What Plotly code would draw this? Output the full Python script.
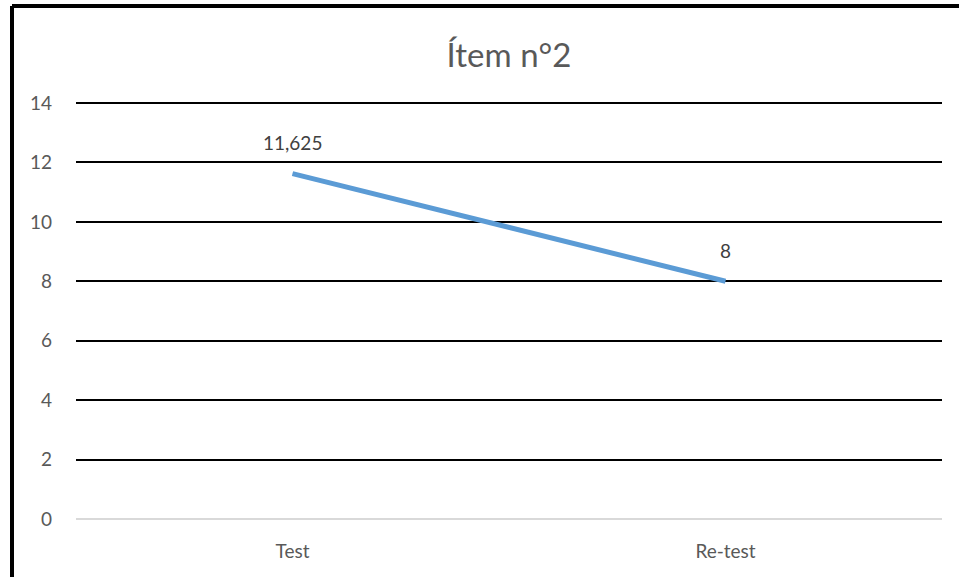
import plotly.graph_objects as go

categories = ["Test", "Re-test"]
values = [11.625, 8]
labels = ["11,625", "8"]
y_ticks = [0, 2, 4, 6, 8, 10, 12, 14]

W, H = 959, 577
L, R, T, B = 76, 17, 102, 58
pw = W - L - R
ph = H - T - B

fig = go.Figure()
fig.add_trace(go.Scatter(
    x=categories, y=values, mode="lines",
    line=dict(color="#5B9BD5", width=5),
    hoverinfo="skip", showlegend=False,
))
for c, v, t in zip(categories, values, labels):
    fig.add_annotation(x=c, y=v, text=t, showarrow=False, yshift=31,
                       font=dict(size=19, color="#404040"))

def px_x(px):
    return (px - L) / pw

def px_y(py):
    return (H - B - py) / ph

fig.add_shape(type="line", xref="paper", yref="paper",
              x0=px_x(12), x1=px_x(W + 5), y0=px_y(6), y1=px_y(6),
              line=dict(color="black", width=4))
fig.add_shape(type="line", xref="paper", yref="paper",
              x0=px_x(12), x1=px_x(12), y0=px_y(6), y1=px_y(H + 5),
              line=dict(color="black", width=4))

fig.update_layout(
    width=W, height=H,
    margin=dict(l=L, r=R, t=T, b=B),
    paper_bgcolor="white", plot_bgcolor="white",
    font=dict(family="Lato, Open Sans, sans-serif", color="#595959", size=19),
    title=dict(text="Ítem n°2", x=0.5, xref="paper", xanchor="center",
               y=1 - 55 / H, yanchor="middle",
               font=dict(size=33, color="#595959")),
    xaxis=dict(type="category", range=[-0.5, 1.5], showgrid=False,
               showline=False, zeroline=False, ticks="",
               ticklabelstandoff=19, tickfont=dict(size=19, color="#595959")),
    yaxis=dict(range=[0, 14.034], tickvals=y_ticks, showgrid=True,
               gridcolor="black", gridwidth=2, zeroline=True,
               zerolinecolor="#D9D9D9", zerolinewidth=2, showline=False,
               ticks="", ticklabelstandoff=23,
               tickfont=dict(size=19, color="#595959")),
)

fig.write_html("out.html", config={"displayModeBar": False})
with open("out.html", encoding="utf-8") as f:
    html = f.read()
html = html.replace("<head>", "<head><style>html,body{margin:0;padding:0;overflow:hidden;}</style>", 1)
with open("out.html", "w", encoding="utf-8") as f:
    f.write(html)
